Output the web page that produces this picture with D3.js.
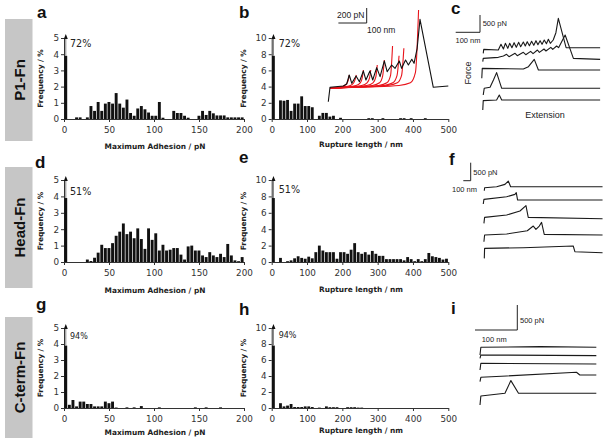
<!DOCTYPE html>
<html><head><meta charset="utf-8">
<script src="https://cdn.jsdelivr.net/npm/d3@7"></script>
<style>body{margin:0;background:#fff}svg{display:block}</style>
</head><body><svg id="fig" width="607" height="444"></svg>
<script>
// ---------------- DATA ----------------
const constructs = ["P1-Fn", "Head-Fn", "C-term-Fn"];
const zeroBinPercent = ["72%", "51%", "94%"];
const adhesionBins = d3.range(0, 200, 4);   // bin starts, pN
const ruptureBins = d3.range(0, 500, 10);   // bin starts, nm
const adhesionTicks = [0, 50, 100, 150, 200];
const ruptureTicks = [0, 100, 200, 300, 400, 500];
const adhesionFreqTicks = [0, 1, 2, 3, 4, 5];
const ruptureFreqTicks = [0, 2, 4, 6, 8, 10];

const p1Adhesion = [3.9,0,0,0.1,0.1,0,0.1,0.8,0.5,1.05,0.5,0.95,1.05,0.95,1.6,0.95,0.7,1.2,0.37,0.2,0.65,0.8,0.6,0.4,0.2,0.2,1.05,0.08,0,0,0.5,0.37,0.37,0.2,0.08,0,0,0.2,0.5,0.25,0.5,0.35,0.22,0.22,0.22,0.1,0.1,0.1,0.1,0.1];
const headAdhesion = [3.9,0,0,0,0,0,0.15,0.06,0.26,0.57,1.05,0.85,0.85,1.15,1.6,1.85,2.35,1.7,1.85,1.45,2.05,1.4,0.8,2.05,1.35,1.75,0.7,1.05,0.7,0.75,0.85,0.85,0.45,0.15,0.95,1.0,0.7,0.7,0.4,0.3,0.6,0.4,0.3,0.5,0.3,1.1,0.4,0.1,0.05,0.3];
const ctermAdhesion = [3.9,0.2,0.5,0.1,0.4,0.4,0.25,0.25,0.1,0.1,0.1,0.4,0.3,0.4,0.03,0,0,0.04,0,0.04,0,0.12,0,0,0,0,0.04,0,0,0,0,0,0,0,0,0,0.04,0,0,0.04,0,0,0,0.04,0,0,0,0,0,0];
const p1Rupture = [7.8,0,2.3,2.25,2.35,1.0,1.9,1.9,2.8,1.6,1.6,1.45,0,0.4,0.75,0.75,0.3,0.4,0,0.15,0,0,0,0,0,0,0,0.1,0.1,0,0,0.1,0,0,0,0,0.1,0.1,0,0.1,0,0,0,0.1,0,0,0,0,0,0];
const headRupture = [7.8,0,0.5,0,0.1,0.2,0.45,0.7,0.5,0.4,0.65,0.45,1.2,2.0,1.4,1.2,1.2,1.2,0.4,1.2,1.2,1.0,1.5,2.3,1.2,1.0,1.2,0.9,1.35,1.0,0.75,0.75,0.35,0.35,0.35,0.35,0.35,0.2,0.6,0.35,0.1,0.35,0.1,0.35,1.1,0.7,0.6,0.5,0.3,0.4];
const ctermRupture = [7.8,0,0.6,0.2,0.3,0.5,0.12,0.12,0.12,0.2,0.2,0.12,0,0.05,0,0.2,0.1,0.1,0.1,0,0,0.1,0.1,0.1,0.05,0.05,0,0,0,0,0,0,0,0,0,0,0,0,0,0,0,0,0,0,0,0,0,0,0,0];

// Inset of panel b: [extension nm, force pN]
const p1InsetTrace = [[0,-192],[6,0],[53,17],[65,44],[74,164],[83,53],[98,151],[110,75],[124,217],[133,97],[147,217],[157,97],[171,262],[183,142],[198,351],[208,208],[224,297],[236,253],[251,351],[259,253],[273,364],[283,297],[295,373],[303,320],[314,520],[324,906],[371,0],[424,17]];
const p1InsetFits = [
  [[6,-12],[40,5],[58,25],[67,60],[72,120],[74,164]],
  [[6,-12],[50,5],[78,25],[90,60],[96,120],[99,164]],
  [[6,-12],[60,5],[98,25],[113,60],[120,130],[124,231]],
  [[6,-12],[70,5],[118,25],[137,60],[146,130],[150,231]],
  [[6,-12],[80,5],[136,25],[158,60],[168,140],[173,297]],
  [[6,-12],[90,5],[156,25],[181,60],[192,150],[198,364]],
  [[6,-12],[100,5],[178,25],[207,60],[220,160],[227,551]],
  [[6,-12],[110,5],[196,25],[228,60],[243,160],[250,420]],
  [[6,-12],[120,5],[210,25],[244,60],[259,160],[267,520]],
  [[6,-12],[140,5],[250,25],[290,60],[308,200],[319,1031]]
];
// Panel c traces [nm, pN] and vertical stacking offsets (pN)
const p1Traces = [
  [[1,-96],[3,19],[63,0],[74,164],[84,29],[92,193],[102,48],[110,193],[119,67],[128,212],[137,77],[147,221],[155,96],[166,231],[174,116],[182,241],[191,125],[200,250],[209,135],[218,270],[226,154],[235,270],[243,164],[252,289],[261,183],[269,308],[277,193],[289,289],[300,500],[310,915],[342,67],[482,67]],
  [[-1,-67],[1,29],[63,58],[84,96],[97,144],[107,77],[132,173],[141,106],[166,202],[176,135],[196,231],[206,164],[224,270],[232,202],[251,299],[259,241],[279,347],[287,289],[303,385],[311,337],[338,703],[372,29],[482,0]],
  [[-5,-270],[-3,19],[166,0],[187,67],[211,279],[228,-29],[482,-29]],
  [[1,-193],[5,0],[29,29],[43,241],[56,453],[77,0],[482,0]],
  [[-1,-289],[1,-19],[56,0],[67,144],[77,0],[482,0]]
];
const p1Offsets = [0,-270,-549,-1107,-1444];
// Panel f
const headTraces = [
  [[0,-83],[4,0],[167,28],[279,93],[324,185],[356,28],[1598,28]],
  [[-14,-130],[-5,0],[302,74],[414,139],[432,185],[450,-19],[1598,-19]],
  [[-5,-167],[4,0],[302,65],[482,176],[563,324],[594,0],[1598,-37]],
  [[-5,-185],[4,0],[302,28],[581,120],[662,250],[698,157],[743,250],[774,352],[810,19],[1598,0]],
  [[0,-278],[4,0],[527,19],[1202,65],[1224,-93],[1598,-120]]
];
const headOffsets = [0,-324,-824,-1315,-1685];
// Panel i
const ctermTraces = [
  [[0,-153],[2,0],[142,13],[275,0]],
  [[0,-67],[2,0],[275,-13]],
  [[0,-133],[2,0],[275,-13]],
  [[0,-87],[2,0],[63,27],[228,100],[236,47],[275,47]],
  [[0,-180],[2,0],[59,53],[73,307],[91,53],[275,53]]
];
const ctermOffsets = [0,-153,-320,-600,-973];

// ---------------- DRAWING ----------------
const svg = d3.select("#fig");
const FONT = "DejaVu Sans, Verdana, sans-serif";
const ARIAL = "Liberation Sans, Arial, sans-serif";

function hist(o) {
  const g = svg.append("g");
  const xs = d3.scaleLinear().domain([0, o.xMax]).range([o.x0, o.x1]);
  const ys = d3.scaleLinear().domain([0, o.yMax]).range([o.bottom, o.top]);
  const ax = g.append("g").attr("transform", `translate(${o.x0},0)`)
    .call(d3.axisLeft(ys).tickValues(o.yTicks).tickFormat(d3.format("d")).tickSize(3).tickSizeOuter(0).tickPadding(2));
  const bx = g.append("g").attr("transform", `translate(0,${o.bottom})`)
    .call(d3.axisBottom(xs).tickValues(o.xTicks).tickFormat(d3.format("d")).tickSize(3).tickSizeOuter(0).tickPadding(5));
  [ax, bx].forEach(a => {
    a.selectAll("text").attr("font-size", 8.8).attr("fill", "#333").attr("font-family", FONT);
    a.selectAll("path,line").attr("stroke", "#333");
  });
  const bw = xs(o.binW) - xs(0);
  g.append("g").selectAll("rect")
    .data(o.values.map((v, i) => ({ b: o.bins[i], v })).filter(d => d.v > 0))
    .enter().append("rect")
    .attr("x", d => xs(d.b) + 0.3).attr("width", bw - 0.7)
    .attr("y", d => ys(d.v)).attr("height", d => ys(0) - ys(d.v))
    .attr("fill", "#111");
  // arrow above zero bin
  const axc = xs(o.binW / 2);
  const tip = o.top - 4;
  g.append("line").attr("x1", axc).attr("x2", axc).attr("y1", ys(o.values[0])).attr("y2", tip + 3)
    .attr("stroke", "#666").attr("stroke-width", 0.8);
  g.append("path").attr("d", `M${axc},${tip}L${axc-2},${tip+5}L${axc+2},${tip+5}Z`).attr("fill", "#111");
  g.append("text").attr("x", o.x0 + o.pctDx).attr("y", o.pctY).text(o.pct)
    .attr("font-family", FONT).attr("font-size", o.pctSize).attr("fill", "#222");
  g.append("text").attr("transform", `translate(${o.yTitleX},${(o.top + o.bottom) / 2}) rotate(-90)`)
    .attr("text-anchor", "middle").text("Frequency / %")
    .attr("font-family", FONT).attr("font-weight", "bold").attr("font-size", 7.4).attr("fill", "#222");
  g.append("text").attr("x", (o.x0 + o.x1) / 2 + 1).attr("y", o.xTitleY).attr("text-anchor", "middle")
    .text(o.xTitle).attr("font-family", FONT).attr("font-weight", "bold").attr("font-size", 7.4).attr("fill", "#222");
}

function scaleBar(g, xs, ys, cx, cy, nm, pN, labY, labN, size) {
  const w = xs(nm) - xs(0), h = ys(0) - ys(pN);
  g.append("path").attr("d", `M${cx},${cy - h}V${cy}H${cx - w}`).attr("fill", "none")
    .attr("stroke", "#222").attr("stroke-width", 1);
  g.append("text").attr("x", labY[0]).attr("y", labY[1]).text(pN + " pN").attr("font-family", ARIAL)
    .attr("font-size", size).attr("fill", "#222").attr("text-anchor", labY[2] || "start");
  g.append("text").attr("x", labN[0]).attr("y", labN[1]).text(nm + " nm").attr("font-family", ARIAL)
    .attr("font-size", size).attr("fill", "#222");
}

function traces(data, offsets, xs, ys) {
  const g = svg.append("g");
  const line = d3.line().x(d => xs(d[0])).y(d => ys(d[1]));
  data.forEach((t, k) => {
    g.append("path").attr("d", line(t.map(p => [p[0], p[1] + offsets[k]])))
      .attr("fill", "none").attr("stroke", "#1a1a1a").attr("stroke-width", 1.1).attr("stroke-linejoin", "round");
  });
  return g;
}

// gray boxes with construct names
const boxes = [[19, 141], [167, 288], [317, 438]];
boxes.forEach((b, i) => {
  svg.append("rect").attr("x", 5).attr("y", b[0]).attr("width", 27.5).attr("height", b[1] - b[0]).attr("fill", "#c6c6c6");
  svg.append("text").attr("transform", `translate(24.5,${(b[0] + b[1]) / 2}) rotate(-90)`)
    .attr("text-anchor", "middle").text(constructs[i]).attr("font-family", ARIAL)
    .attr("font-weight", "bold").attr("font-size", 15).attr("fill", "#111");
});

// panel letters
[["a",37,18],["b",239,18],["c",451,14],["d",35,168],["e",239,163],["f",449,165],["g",36,310],["h",239,315],["i",451,314]]
  .forEach(l => svg.append("text").attr("x", l[1]).attr("y", l[2]).text(l[0]).attr("font-family", ARIAL)
    .attr("font-weight", "bold").attr("font-size", 17).attr("fill", "#111"));

const rows = [
  { top: 38, bottom: 119, xTitleY: 148.5, pctYA: 46.7, pctYB: 46.7, size: 9.6 },
  { top: 180, bottom: 262, xTitleY: 293, pctYA: 195, pctYB: 192.7, size: 9.6 },
  { top: 328, bottom: 408, xTitleY: 434.5, pctYA: 338.6, pctYB: 338, size: 8 }
];
const adh = [p1Adhesion, headAdhesion, ctermAdhesion];
const rup = [p1Rupture, headRupture, ctermRupture];
rows.forEach((r, i) => {
  hist({ values: adh[i], bins: adhesionBins, binW: 4, xMax: 200, yMax: 5, xTicks: adhesionTicks, yTicks: adhesionFreqTicks,
    x0: 64, x1: 244, top: r.top, bottom: r.bottom, pct: zeroBinPercent[i], pctDx: 6, pctY: r.pctYA, pctSize: r.size,
    xTitle: "Maximum Adhesion / pN", xTitleY: r.xTitleY, yTitleX: 43 });
  hist({ values: rup[i], bins: ruptureBins, binW: 10, xMax: 500, yMax: 10, xTicks: ruptureTicks, yTicks: ruptureFreqTicks,
    x0: 271.7, x1: 448.3, top: r.top, bottom: r.bottom, pct: zeroBinPercent[i], pctDx: 7, pctY: r.pctYB, pctSize: r.size,
    xTitle: "Rupture length / nm", xTitleY: r.xTitleY - 1.5, yTitleX: 246 });
});

// inset in panel b
{
  const xs = d3.scaleLinear().domain([0, 100]).range([328.3, 356.6]);
  const ys = d3.scaleLinear().domain([0, 200]).range([87.3, 72.3]);
  const g = svg.append("g");
  const curve = d3.line().x(d => xs(d[0])).y(d => ys(d[1])).curve(d3.curveMonotoneX);
  p1InsetFits.forEach(f => g.append("path").attr("d", curve(f)).attr("fill", "none")
    .attr("stroke", "#e8141b").attr("stroke-width", 1.1));
  const line = d3.line().x(d => xs(d[0])).y(d => ys(d[1]));
  g.append("path").attr("d", line(p1InsetTrace)).attr("fill", "none").attr("stroke", "#111")
    .attr("stroke-width", 1.1).attr("stroke-linejoin", "round");
  scaleBar(g, xs, ys, 366.7, 23, 100, 200, [364.5, 18, "end"], [367, 33], 8.5);
}
// panel c
{
  const xs = d3.scaleLinear().domain([0, 100]).range([483, 507.3]);
  const ys = d3.scaleLinear().domain([0, 500]).range([50, 32.7]);
  const g = traces(p1Traces, p1Offsets, xs, ys);
  scaleBar(g, xs, ys, 480, 32.3, 100, 500, [482.7, 26], [455.5, 43], 7.5);
  g.append("text").attr("transform", "translate(471,73) rotate(-90)").attr("text-anchor", "middle").text("Force")
    .attr("font-family", ARIAL).attr("font-size", 9).attr("fill", "#222");
  g.append("text").attr("x", 545).attr("y", 118).attr("text-anchor", "middle").text("Extension")
    .attr("font-family", ARIAL).attr("font-size", 9).attr("fill", "#222");
}
// panel f
{
  const xs = d3.scaleLinear().domain([0, 100]).range([484.3, 491.7]);
  const ys = d3.scaleLinear().domain([0, 500]).range([187.7, 169.7]);
  const g = traces(headTraces, headOffsets, xs, ys);
  scaleBar(g, xs, ys, 470.7, 180.7, 100, 500, [473.3, 175], [452, 191.5], 7.5);
}
// panel i
{
  const xs = d3.scaleLinear().domain([0, 100]).range([480, 522.3]);
  const ys = d3.scaleLinear().domain([0, 500]).range([347.3, 322.3]);
  const g = traces(ctermTraces, ctermOffsets, xs, ys);
  scaleBar(g, xs, ys, 517.3, 330, 100, 500, [520, 323], [481.7, 341.5], 7.5);
}
</script></body></html>
